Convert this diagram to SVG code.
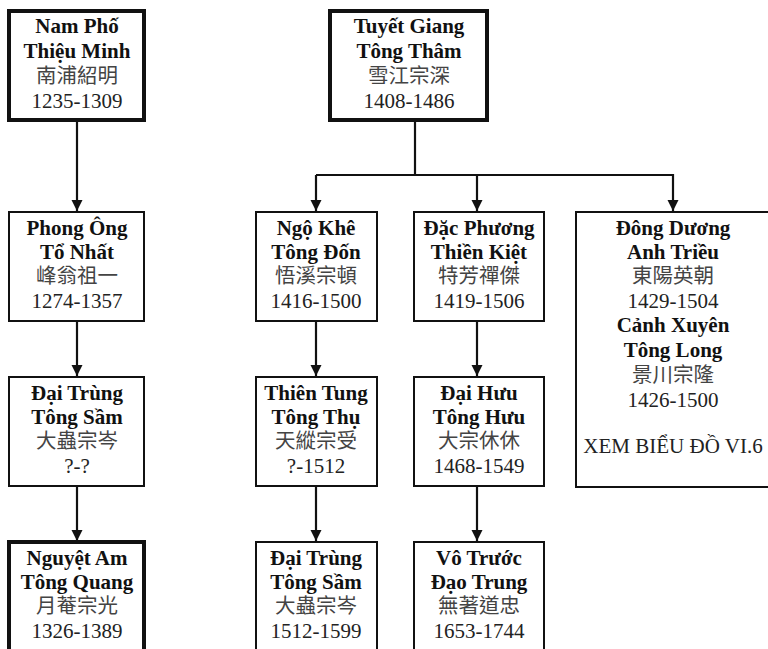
<svg xmlns="http://www.w3.org/2000/svg" width="768" height="649" viewBox="0 0 768 649">
<style>
.box{fill:#fff;stroke:#111;stroke-width:2}
.thick{stroke-width:4}
.n{font-family:"Liberation Serif","Times New Roman",serif;font-weight:bold;font-size:21px;fill:#111;text-anchor:middle}
.d{font-family:"Liberation Serif","Times New Roman",serif;font-size:21px;fill:#222;text-anchor:middle}
.c{font-family:"Noto Sans CJK TC","Noto Sans CJK SC",sans-serif;font-size:20.5px;fill:#444;text-anchor:middle}
.ln{fill:none;stroke:#111;stroke-width:2.2}
</style>
<defs>
<marker id="ah" markerUnits="userSpaceOnUse" markerWidth="12" markerHeight="12" refX="11" refY="5.5" orient="auto">
<path d="M0,0 L11,5.5 L0,11 z" fill="#111"/>
</marker>
</defs>
<rect width="768" height="649" fill="#fff"/>
<g id="connectors">
<line class="ln" x1="77" y1="121" x2="77" y2="211" marker-end="url(#ah)"/>
<line class="ln" x1="77" y1="322" x2="77" y2="376" marker-end="url(#ah)"/>
<line class="ln" x1="77" y1="487" x2="77" y2="541" marker-end="url(#ah)"/>
<polyline class="ln" points="415,121 415,175"/>
<polyline class="ln" points="316,175 673,175"/>
<line class="ln" x1="316" y1="175" x2="316" y2="211" marker-end="url(#ah)"/>
<line class="ln" x1="477" y1="175" x2="477" y2="211" marker-end="url(#ah)"/>
<line class="ln" x1="673" y1="174" x2="673" y2="211" marker-end="url(#ah)"/>
<line class="ln" x1="316" y1="322" x2="316" y2="376" marker-end="url(#ah)"/>
<line class="ln" x1="316" y1="487" x2="316" y2="541" marker-end="url(#ah)"/>
<line class="ln" x1="477" y1="322" x2="477" y2="376" marker-end="url(#ah)"/>
<line class="ln" x1="477" y1="487" x2="477" y2="541" marker-end="url(#ah)"/>
</g>
<g id="nam-pho">
<rect class="box thick" x="9" y="11" width="135" height="109"/>
<text class="n" x="77" y="33">Nam Phố</text>
<text class="n" x="77" y="58">Thiệu Minh</text>
<text class="c" x="77" y="83">南浦紹明</text>
<text class="d" x="77" y="108">1235-1309</text>
</g>
<g id="phong-ong">
<rect class="box" x="9" y="212" width="135" height="109"/>
<text class="n" x="77" y="235">Phong Ông</text>
<text class="n" x="77" y="259">Tổ Nhất</text>
<text class="c" x="77" y="283">峰翁祖一</text>
<text class="d" x="77" y="308">1274-1357</text>
</g>
<g id="dai-trung-1">
<rect class="box" x="9" y="377" width="135" height="109"/>
<text class="n" x="77" y="400">Đại Trùng</text>
<text class="n" x="77" y="424">Tông Sầm</text>
<text class="c" x="77" y="448">大蟲宗岑</text>
<text class="d" x="77" y="473">?-?</text>
</g>
<g id="nguyet-am">
<rect class="box thick" x="9" y="542" width="135" height="120"/>
<text class="n" x="77" y="565">Nguyệt Am</text>
<text class="n" x="77" y="589">Tông Quang</text>
<text class="c" x="77" y="613">月菴宗光</text>
<text class="d" x="77" y="638">1326-1389</text>
</g>
<g id="tuyet-giang">
<rect class="box thick" x="330" y="11" width="157" height="109"/>
<text class="n" x="409" y="33">Tuyết Giang</text>
<text class="n" x="409" y="58">Tông Thâm</text>
<text class="c" x="409" y="83">雪江宗深</text>
<text class="d" x="409" y="108">1408-1486</text>
</g>
<g id="ngo-khe">
<rect class="box" x="256" y="212" width="121" height="109"/>
<text class="n" x="316" y="235">Ngộ Khê</text>
<text class="n" x="316" y="259">Tông Đốn</text>
<text class="c" x="316" y="283">悟溪宗頓</text>
<text class="d" x="316" y="308">1416-1500</text>
</g>
<g id="dac-phuong">
<rect class="box" x="414" y="212" width="130" height="109"/>
<text class="n" x="479" y="235">Đặc Phương</text>
<text class="n" x="479" y="259">Thiền Kiệt</text>
<text class="c" x="479" y="283">特芳禪傑</text>
<text class="d" x="479" y="308">1419-1506</text>
</g>
<g id="thien-tung">
<rect class="box" x="256" y="377" width="121" height="109"/>
<text class="n" x="316" y="400">Thiên Tung</text>
<text class="n" x="316" y="424">Tông Thụ</text>
<text class="c" x="316" y="448">天縱宗受</text>
<text class="d" x="316" y="473">?-1512</text>
</g>
<g id="dai-huu">
<rect class="box" x="414" y="377" width="130" height="109"/>
<text class="n" x="479" y="400">Đại Hưu</text>
<text class="n" x="479" y="424">Tông Hưu</text>
<text class="c" x="479" y="448">大宗休休</text>
<text class="d" x="479" y="473">1468-1549</text>
</g>
<g id="dai-trung-2">
<rect class="box" x="256" y="542" width="121" height="120"/>
<text class="n" x="316" y="565">Đại Trùng</text>
<text class="n" x="316" y="589">Tông Sầm</text>
<text class="c" x="316" y="613">大蟲宗岑</text>
<text class="d" x="316" y="638">1512-1599</text>
</g>
<g id="vo-truoc">
<rect class="box" x="414" y="542" width="130" height="120"/>
<text class="n" x="479" y="565">Vô Trước</text>
<text class="n" x="479" y="589">Đạo Trung</text>
<text class="c" x="479" y="613">無著道忠</text>
<text class="d" x="479" y="638">1653-1744</text>
</g>
<g id="dong-duong">
<rect class="box" x="576" y="212" width="200" height="275"/>
<text class="n" x="673" y="235">Đông Dương</text>
<text class="n" x="673" y="259">Anh Triều</text>
<text class="c" x="673" y="283">東陽英朝</text>
<text class="d" x="673" y="308">1429-1504</text>
<text class="n" x="673" y="332">Cảnh Xuyên</text>
<text class="n" x="673" y="357">Tông Long</text>
<text class="c" x="673" y="382">景川宗隆</text>
<text class="d" x="673" y="407">1426-1500</text>
<text class="d" x="673" y="453">XEM BIỂU ĐỒ VI.6</text>
</g>
</svg>
